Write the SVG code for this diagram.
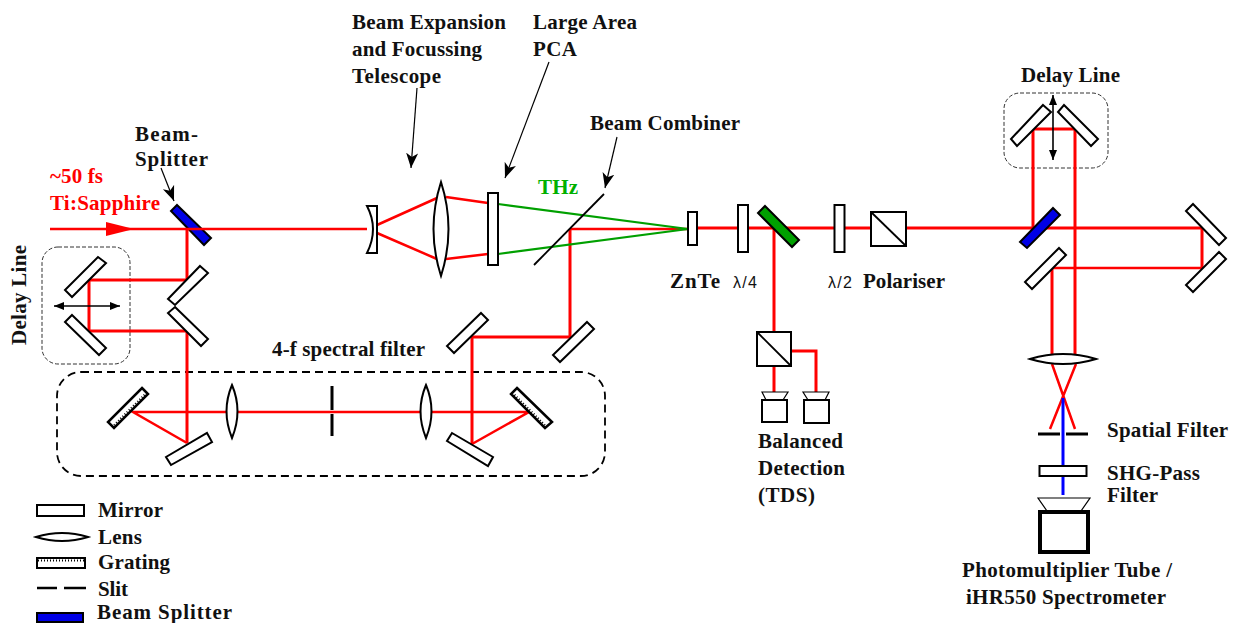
<svg xmlns="http://www.w3.org/2000/svg" width="1237" height="623" viewBox="0 0 1237 623">
<style>
text{font-family:"Liberation Serif","Times New Roman",serif;font-weight:bold;font-size:21px;fill:#111}
.r{fill:#f00}.g{fill:#00b000}
.sans{font-family:"Liberation Sans",Arial,sans-serif;font-weight:normal;font-size:16px}
.o{fill:#fff;stroke:#000;stroke-width:2;stroke-linejoin:miter}
.thin{stroke-width:1.2}
.bs{fill:#0000e6;stroke:#000;stroke-width:2}
.gbs{fill:#00a000;stroke:#000;stroke-width:2}
.b{fill:none;stroke:#f00;stroke-width:3}
.bn{fill:none;stroke:#f00;stroke-width:2.5}
.bl{fill:none;stroke:#00f;stroke-width:3}
.gr{fill:none;stroke:#00a000;stroke-width:2.2}
.k{fill:none;stroke:#000;stroke-width:1.2}
.kk{fill:none;stroke:#000;stroke-width:2.5}
.tick{fill:none;stroke:#000;stroke-width:2;stroke-dasharray:1 2}
.dash{fill:none;stroke:#000;stroke-width:1.8;stroke-dasharray:8 5}
.dash2{fill:none;stroke:#333;stroke-width:1;stroke-dasharray:4 2}
.lead{marker-end:url(#barb)}
.dbl{fill:none;stroke:#000;marker-start:url(#tips);marker-end:url(#tipe);stroke-width:1.6}
</style>
<defs>
<marker id="barb" markerUnits="userSpaceOnUse" markerWidth="18" markerHeight="14" refX="15" refY="7" orient="auto"><path d="M0 1 L15 7 L0 13 L4 7Z" fill="#000"/></marker>
<marker id="tipe" markerUnits="userSpaceOnUse" markerWidth="12" markerHeight="10" refX="11" refY="5" orient="auto"><path d="M1 1 L11 5 L1 9Z" fill="#000"/></marker>
<marker id="tips" markerUnits="userSpaceOnUse" markerWidth="12" markerHeight="10" refX="1" refY="5" orient="auto"><path d="M11 1 L1 5 L11 9Z" fill="#000"/></marker>
</defs>

<g id="filter-box"><rect class="dash" x="57" y="372" width="548" height="104" rx="24"/></g>
<g id="delay-box-left"><rect class="dash2" x="42" y="247" width="88" height="117" rx="16"/></g>
<g id="delay-box-right"><rect class="dash2" x="1004" y="93" width="104" height="75" rx="16"/></g>
<g id="splitter-1"><polygon class="bs" points="177,205 211,238 204,245 171,211"/></g>

<g id="connectors">
<path class="bn" d="M50 229H367"/>
<path class="b" d="M187 229V280H89V331H187V443"/>
<path class="bn" d="M187 443L133 412H529L472 444"/>
<path class="b" d="M472 444V337H570V229"/>
<path class="bn" d="M377 225L437 198M377 233L437 259M446 197L488 203M446 259L488 254"/>
<path class="bn" d="M570 229H688"/>
<path class="gr" d="M498 204L688 229L498 254"/>
<path class="b" d="M697 228H1202V268"/>
<path class="bn" d="M1202 268H1052"/>
<path class="b" d="M1052 268V356"/>
<path class="b" d="M774 228V332M774 366V392M791 351H816V392"/>
<path class="b" d="M1033 228V129H1075V356"/>
<path class="bn" d="M1052 364L1075 429M1076 364L1050 429"/>
<path class="bl" d="M1063 398V495"/>
<path class="k lead" d="M161 168L174 201"/>
<path class="k lead" d="M417 88L411 168"/>
<path class="k lead" d="M549 62L505 178"/>
<path class="k lead" d="M617 137L605 188"/>
<path class="dbl" d="M54 306H120"/>
<path class="dbl" d="M1053 95V160"/>
<polygon points="106,222 134,229 106,236" fill="#f00"/>
</g>

<g id="delay-left-mirrors"><polygon class="o" points="98,257 106,263 72,297 65,290"/><polygon class="o" points="72,315 106,348 99,355 65,322"/></g>
<g id="fold-mirrors-left"><polygon class="o" points="200,266 208,273 175,305 168,299"/><polygon class="o" points="175,307 208,339 201,346 168,313"/></g>
<g id="grating-left"><polygon class="o" style="stroke-width:2.5" points="142,388 148,394 114,428 108,422"/><line class="tick" x1="146.600" y1="392.600" x2="112.600" y2="426.600"/></g>
<g id="mirror-filter-left"><polygon class="o" points="207,433 212,442 171,465 166,457"/></g>
<g id="lens-filter-left"><path class="o" d="M232 385Q243 411 232 438Q221 411 232 385Z"/></g>
<g id="slit"><path class="kk" d="M332 386V410M332 414V436" style="stroke-width:3"/></g>
<g id="lens-filter-right"><path class="o" d="M426 385Q437 411 426 438Q415 411 426 385Z"/></g>
<g id="grating-right"><polygon class="o" style="stroke-width:2.5" points="517,388 552,422 545,428 511,394"/><line class="tick" x1="512.400" y1="392.600" x2="546.400" y2="426.600"/></g>
<g id="mirror-filter-right"><polygon class="o" points="452,433 493,457 488,466 447,441"/></g>
<g id="mirror-up-left"><polygon class="o" points="481,313 488,320 454,353 447,346"/></g>
<g id="mirror-up-right"><polygon class="o" points="587,322 594,329 560,362 553,355"/></g>
<g id="concave-lens"><path class="o" d="M367 206H377V253H367Q379 229 367 206Z"/></g>
<g id="telescope-lens"><path class="o" d="M441 182Q456 229 441 276Q426 229 441 182Z"/></g>
<g id="pca"><rect class="o" x="488" y="193" width="10" height="72"/></g>
<g id="beam-combiner"><line x1="604" y1="194" x2="534" y2="265" stroke="#000" stroke-width="1.8"/></g>
<g id="znte"><rect class="o" x="688" y="212" width="9" height="33"/></g>
<g id="quarter-wave"><rect class="o" x="738" y="205" width="10" height="47"/></g>
<g id="green-splitter"><polygon class="gbs" points="765,206 799,240 792,247 758,213"/></g>
<g id="half-wave"><rect class="o" x="834.500" y="205" width="10" height="47"/></g>
<g id="polariser"><rect class="o" x="871" y="212" width="35" height="34"/><line x1="871" y1="212" x2="906" y2="246" stroke="#000" stroke-width="1.8"/></g>
<g id="detect-cube"><rect class="o" x="757" y="332" width="34" height="34"/><line x1="757" y1="332" x2="791" y2="366" stroke="#000" stroke-width="1.8"/></g>
<g id="detector-1"><polygon class="o thin" points="762,392 788,392 783,400 766,400"/><rect class="o" x="762" y="400" width="25" height="22"/></g>
<g id="detector-2"><polygon class="o thin" points="803,392 829,392 825,400 808,400"/><rect class="o" x="804" y="400" width="25" height="23"/></g>
<g id="delay-right-mirrors"><polygon class="o" points="1043,105 1051,112 1017,146 1011,139"/><polygon class="o" points="1064,105 1098,139 1091,146 1058,112"/></g>
<g id="splitter-2"><polygon class="bs" points="1053,208 1060,215 1027,248 1020,242"/></g>
<g id="mirror-low"><polygon class="o" points="1059,248 1066,255 1032,289 1025,282"/></g>
<g id="retro-mirrors"><polygon class="o" points="1193,204 1226,238 1219,245 1186,211"/><polygon class="o" points="1219,252 1226,259 1193,292 1186,285"/></g>
<g id="focus-lens"><path class="o" d="M1030 359Q1063 349 1096 359Q1063 369 1030 359Z"/></g>
<g id="spatial-filter"><path class="kk" d="M1038 434H1060M1066 434H1088" style="stroke-width:3"/></g>
<g id="shg-filter"><rect class="o" x="1039.500" y="466" width="47" height="10"/></g>
<g id="pmt"><polygon class="o thin" points="1038,498 1090,498 1081,511 1047,511"/><rect class="o" x="1040" y="512" width="48" height="40" style="stroke-width:4"/></g>

<g id="legend">
<rect class="o" x="37" y="505" width="47" height="11"/>
<path class="o" d="M36 537Q62 529 88 537Q62 545 36 537Z"/>
<rect class="o" x="37" y="558" width="48" height="10"/><line class="tick" x1="38" y1="560.500" x2="84" y2="560.500"/>
<path class="kk" d="M37 588H57M64 588H86"/>
<rect class="bs" x="37" y="613" width="46" height="9"/>
</g>

<g id="labels">
<text x="50" y="183" class="r" textLength="53">~50 fs</text>
<text x="50" y="210" class="r" textLength="110">Ti:Sapphire</text>
<text x="135" y="141" textLength="63">Beam-</text>
<text x="135" y="166" textLength="73">Splitter</text>
<text transform="translate(26 345) rotate(-90)" textLength="100">Delay Line</text>
<text x="352" y="29" textLength="154">Beam Expansion</text>
<text x="352" y="56" textLength="130">and Focussing</text>
<text x="352" y="83" textLength="89">Telescope</text>
<text x="533" y="29" textLength="104">Large Area</text>
<text x="533" y="56" textLength="44">PCA</text>
<text x="590" y="130" textLength="150">Beam Combiner</text>
<text x="538" y="194" class="g" textLength="40">THz</text>
<text x="272" y="356" textLength="153">4-f spectral filter</text>
<text x="670" y="288" textLength="50">ZnTe</text>
<text x="733" y="288" class="sans" textLength="24">λ/4</text>
<text x="828" y="288" class="sans" textLength="24">λ/2</text>
<text x="863" y="288" textLength="82">Polariser</text>
<text x="758" y="448" textLength="85">Balanced</text>
<text x="758" y="475" textLength="87">Detection</text>
<text x="758" y="502" textLength="57">(TDS)</text>
<text x="1021" y="82" textLength="99">Delay Line</text>
<text x="1107" y="437" textLength="121">Spatial Filter</text>
<text x="1107" y="480" textLength="93">SHG-Pass</text>
<text x="1107" y="502" textLength="51">Filter</text>
<text x="962" y="577" textLength="210">Photomultiplier Tube /</text>
<text x="966" y="604" textLength="200">iHR550 Spectrometer</text>
<text x="98" y="517" textLength="65">Mirror</text>
<text x="98" y="544" textLength="44">Lens</text>
<text x="98" y="569" textLength="72">Grating</text>
<text x="98" y="596" textLength="30">Slit</text>
<text x="97" y="619" textLength="135">Beam Splitter</text>
</g>
</svg>
